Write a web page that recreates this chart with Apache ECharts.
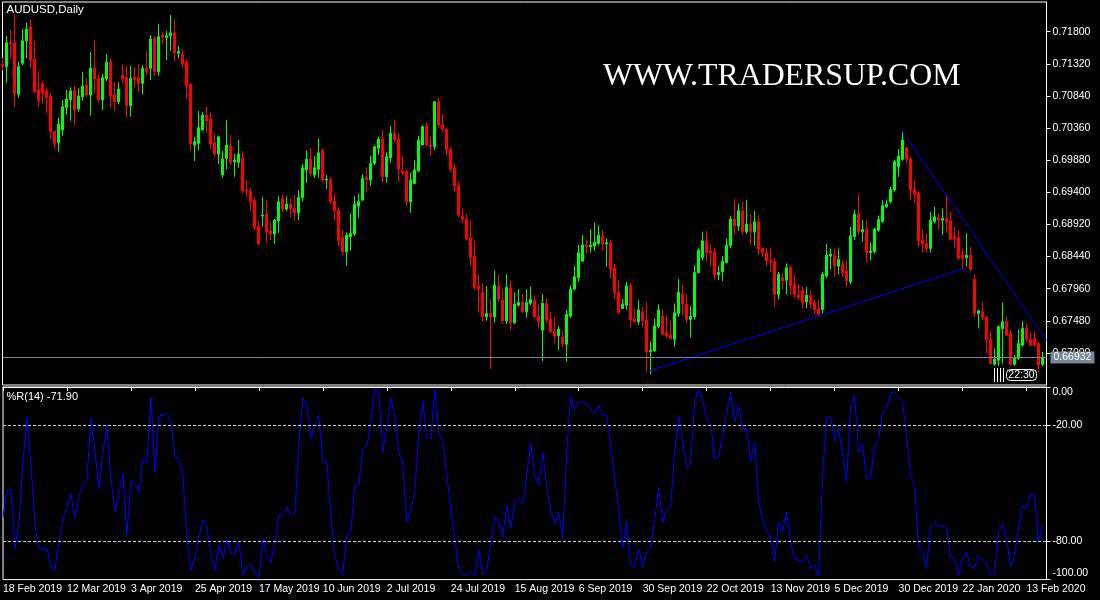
<!DOCTYPE html>
<html><head><meta charset="utf-8">
<script src="https://cdn.jsdelivr.net/npm/echarts/dist/echarts.min.js"></script>
<style>html,body{margin:0;padding:0;background:#000;}#c{width:1100px;height:600px;}</style>
</head><body><div id="c"></div>
<script>
const symbolName = 'AUDUSD,Daily';
const holidays = ['2019-12-25', '2020-01-01'];
const barCount = 262; // 261 bars + one empty slot on the right
const opens = [0.71317,0.71277,0.71636,0.71636,0.70868,0.71328,0.71661,0.71875,0.71392,0.70928,0.71018,0.70918,0.70839,0.70315,0.70140,0.70330,0.70664,0.70779,0.70918,0.70644,0.70828,0.71003,0.70854,0.71257,0.71103,0.70779,0.71093,0.71347,0.70854,0.70753,0.71153,0.71118,0.70694,0.71118,0.71118,0.71028,0.71253,0.71253,0.71701,0.71202,0.71755,0.71710,0.71740,0.71785,0.71477,0.71467,0.71347,0.71018,0.70106,0.70131,0.70330,0.70554,0.70495,0.70140,0.69971,0.69657,0.69907,0.70091,0.69856,0.69847,0.69916,0.69433,0.69418,0.69283,0.68895,0.69044,0.69074,0.68820,0.68775,0.68974,0.69309,0.69149,0.69224,0.69159,0.69094,0.69318,0.69732,0.69897,0.69657,0.69743,0.70031,0.69583,0.69597,0.69268,0.69134,0.68726,0.68510,0.68735,0.68775,0.69194,0.69283,0.69623,0.69583,0.69832,0.70057,0.70196,0.69632,0.69916,0.70281,0.70196,0.69722,0.69707,0.69258,0.69533,0.69717,0.70106,0.70390,0.70106,0.70080,0.70753,0.70420,0.70345,0.70046,0.69766,0.69508,0.69044,0.68999,0.68720,0.68436,0.67997,0.67903,0.67538,0.67589,0.67538,0.67997,0.67788,0.67479,0.67972,0.67449,0.67713,0.67754,0.67613,0.67739,0.67788,0.67549,0.67340,0.67739,0.67504,0.67325,0.67254,0.67239,0.67130,0.67549,0.67953,0.68122,0.68371,0.68611,0.68586,0.68596,0.68636,0.68745,0.68626,0.68645,0.68271,0.67903,0.67664,0.67713,0.68002,0.67504,0.67464,0.67613,0.67489,0.67015,0.67030,0.67394,0.67549,0.67300,0.67265,0.67205,0.67589,0.67878,0.67728,0.67499,0.67538,0.68197,0.68426,0.68675,0.68525,0.68501,0.68172,0.68212,0.68351,0.68601,0.68999,0.68895,0.69123,0.68809,0.68925,0.68809,0.68959,0.68561,0.68495,0.68386,0.68371,0.67873,0.68122,0.68087,0.68271,0.68027,0.67863,0.67938,0.67763,0.67863,0.67748,0.67664,0.67649,0.68147,0.68446,0.68461,0.68296,0.68321,0.68226,0.68062,0.68735,0.69074,0.68809,0.68845,0.68501,0.68510,0.68835,0.68959,0.69183,0.69258,0.69433,0.69781,0.69892,0.70066,0.69897,0.69433,0.69393,0.68696,0.68636,0.68561,0.68959,0.69025,0.68984,0.69010,0.68974,0.68735,0.68726,0.68461,0.68421,0.68461,0.68102,0.67589,0.67613,0.67538,0.67200,0.66831,0.66891,0.67365,0.67464,0.67290,0.66831,0.66916,0.67116,0.67365,0.67200,0.67215,0.67141,0.66827];
const highs = [0.71407,0.71736,0.71825,0.72065,0.71351,0.71840,0.71941,0.71990,0.71661,0.71212,0.71063,0.70969,0.70879,0.70315,0.70514,0.70779,0.70928,0.70969,0.70988,0.70954,0.71202,0.71103,0.71496,0.71676,0.71168,0.71168,0.71467,0.71402,0.71043,0.71043,0.71313,0.71287,0.71287,0.71268,0.71313,0.71292,0.71511,0.71751,0.71740,0.71915,0.71791,0.71810,0.72050,0.71990,0.71591,0.71541,0.71387,0.71018,0.70230,0.70614,0.70604,0.70689,0.70595,0.70281,0.70240,0.70016,0.70480,0.70255,0.69971,0.70181,0.70016,0.69583,0.69467,0.69324,0.68969,0.69333,0.69283,0.68950,0.68999,0.69343,0.69373,0.69343,0.69309,0.69358,0.69433,0.69822,0.70031,0.70057,0.69941,0.70206,0.70057,0.69657,0.69623,0.69384,0.69183,0.68835,0.68800,0.69085,0.69343,0.69373,0.69672,0.69772,0.69941,0.70095,0.70230,0.70330,0.69997,0.70390,0.70480,0.70281,0.69946,0.69743,0.69692,0.69882,0.70240,0.70405,0.70445,0.70240,0.70764,0.70819,0.70569,0.70365,0.70080,0.69832,0.69557,0.69159,0.69074,0.68984,0.68670,0.68177,0.68038,0.67997,0.67814,0.68226,0.68177,0.67953,0.68177,0.68087,0.67903,0.67953,0.67878,0.67953,0.67987,0.67863,0.67739,0.67878,0.67814,0.67613,0.67529,0.67399,0.67340,0.67643,0.68012,0.68301,0.68611,0.68760,0.68700,0.68850,0.68944,0.68909,0.68835,0.68711,0.68685,0.68337,0.68087,0.67803,0.68062,0.68047,0.67664,0.67788,0.67688,0.67754,0.67175,0.67514,0.67728,0.67654,0.67564,0.67489,0.67739,0.68102,0.68012,0.67878,0.67698,0.68311,0.68561,0.68809,0.68824,0.68626,0.68576,0.68301,0.68446,0.68711,0.69044,0.69298,0.69224,0.69258,0.69283,0.69074,0.69123,0.69059,0.68576,0.68561,0.68561,0.68411,0.68212,0.68197,0.68337,0.68311,0.68177,0.68027,0.67987,0.67987,0.67938,0.67798,0.67798,0.68212,0.68626,0.68561,0.68561,0.68561,0.68386,0.68376,0.68884,0.69134,0.69384,0.68984,0.68984,0.68651,0.68875,0.69044,0.69283,0.69293,0.69482,0.69882,0.70046,0.70305,0.70080,0.69931,0.69583,0.69408,0.68845,0.68786,0.69109,0.69183,0.69085,0.69159,0.69333,0.69109,0.68875,0.68835,0.68561,0.68794,0.68586,0.68177,0.67643,0.67763,0.67549,0.67329,0.67066,0.67414,0.67748,0.67538,0.67350,0.66966,0.67350,0.67479,0.67439,0.67314,0.67325,0.67165,0.67015];
const lows = [0.71227,0.71028,0.71402,0.70679,0.70813,0.71292,0.71402,0.71262,0.70888,0.70679,0.70729,0.70580,0.70196,0.70042,0.70006,0.70240,0.70554,0.70469,0.70394,0.70604,0.70768,0.70828,0.70544,0.70879,0.70738,0.70629,0.71063,0.70664,0.70614,0.70719,0.71028,0.70514,0.70529,0.70969,0.70903,0.70864,0.71153,0.71078,0.71142,0.71138,0.71627,0.71377,0.71511,0.71351,0.71402,0.71262,0.70794,0.70021,0.69867,0.70031,0.70330,0.70290,0.70046,0.69931,0.69822,0.69617,0.69747,0.69807,0.69632,0.69766,0.69384,0.69333,0.69123,0.68835,0.68626,0.68884,0.68645,0.68685,0.68626,0.68794,0.69109,0.69119,0.69019,0.68974,0.68984,0.69258,0.69542,0.69632,0.69608,0.69617,0.69542,0.69448,0.69224,0.68984,0.68596,0.68461,0.68301,0.68525,0.68745,0.69019,0.69268,0.69393,0.69493,0.69807,0.69956,0.69542,0.69542,0.69832,0.70140,0.69557,0.69657,0.69198,0.69094,0.69518,0.69707,0.70106,0.70091,0.69946,0.70031,0.70365,0.70305,0.69946,0.69707,0.69408,0.69025,0.68935,0.68675,0.68301,0.67938,0.67613,0.67464,0.67479,0.66756,0.67449,0.67763,0.67429,0.67429,0.67340,0.67429,0.67688,0.67589,0.67523,0.67713,0.67514,0.67365,0.66880,0.67449,0.67300,0.67141,0.67041,0.67090,0.66865,0.67523,0.67928,0.68062,0.68361,0.68491,0.68501,0.68525,0.68611,0.68525,0.68286,0.68113,0.67798,0.67579,0.67654,0.67643,0.67374,0.67449,0.67414,0.67380,0.66716,0.66677,0.67015,0.67365,0.67265,0.67230,0.67205,0.67090,0.67538,0.67564,0.67439,0.67230,0.67499,0.68187,0.68386,0.68361,0.68296,0.68098,0.68087,0.68077,0.68337,0.68561,0.68779,0.68824,0.68760,0.68775,0.68611,0.68601,0.68461,0.68436,0.68301,0.68212,0.67688,0.67798,0.67938,0.67873,0.67863,0.67828,0.67798,0.67664,0.67664,0.67664,0.67579,0.67538,0.67589,0.68122,0.68247,0.68137,0.68177,0.68137,0.67978,0.68027,0.68685,0.68760,0.68660,0.68361,0.68386,0.68486,0.68809,0.68944,0.69159,0.69233,0.69408,0.69632,0.69871,0.69832,0.69283,0.69243,0.68576,0.68501,0.68501,0.68501,0.68935,0.68835,0.68760,0.68794,0.68685,0.68561,0.68396,0.68262,0.68286,0.68226,0.67538,0.67365,0.67479,0.66991,0.66831,0.66806,0.66806,0.66841,0.67250,0.66806,0.66806,0.66891,0.67090,0.67165,0.67090,0.67105,0.66716,0.66801];
const closes = [0.71287,0.71636,0.71612,0.70868,0.71277,0.71665,0.71840,0.71377,0.70903,0.70768,0.70879,0.70813,0.70305,0.70131,0.70420,0.70679,0.70794,0.70918,0.70629,0.70839,0.70988,0.70854,0.71257,0.71093,0.70779,0.71112,0.71347,0.70839,0.70753,0.70943,0.71093,0.70694,0.71103,0.71088,0.71028,0.71253,0.71202,0.71691,0.71202,0.71725,0.71716,0.71740,0.71785,0.71486,0.71501,0.71317,0.70988,0.70121,0.70155,0.70365,0.70554,0.70469,0.70121,0.69971,0.70230,0.69897,0.70106,0.69847,0.69882,0.69971,0.69418,0.69418,0.69258,0.68875,0.68626,0.69059,0.68809,0.68775,0.68984,0.69258,0.69149,0.69224,0.69149,0.69094,0.69324,0.69766,0.69897,0.69683,0.69766,0.69991,0.69583,0.69597,0.69268,0.69123,0.68675,0.68510,0.68760,0.68786,0.69224,0.69258,0.69608,0.69583,0.69832,0.70080,0.70196,0.69632,0.69931,0.70281,0.70181,0.69747,0.69683,0.69258,0.69583,0.69732,0.70181,0.70380,0.70106,0.70080,0.70753,0.70405,0.70341,0.70031,0.69747,0.69497,0.69059,0.68999,0.68700,0.68421,0.67978,0.67948,0.67538,0.67589,0.67538,0.68012,0.67803,0.67479,0.67978,0.67449,0.67728,0.67754,0.67613,0.67754,0.67803,0.67538,0.67464,0.67739,0.67489,0.67314,0.67254,0.67355,0.67130,0.67579,0.67953,0.68137,0.68495,0.68611,0.68586,0.68611,0.68651,0.68760,0.68626,0.68645,0.68247,0.67897,0.67604,0.67728,0.68002,0.67489,0.67464,0.67643,0.67479,0.67015,0.67041,0.67404,0.67643,0.67280,0.67254,0.67215,0.67598,0.67903,0.67728,0.67499,0.67549,0.68202,0.68536,0.68675,0.68501,0.68495,0.68162,0.68202,0.68371,0.68611,0.68999,0.68895,0.69123,0.68809,0.68925,0.68809,0.68959,0.68551,0.68501,0.68376,0.68361,0.67873,0.68177,0.68077,0.68271,0.68002,0.67873,0.67833,0.67748,0.67863,0.67728,0.67649,0.67579,0.68177,0.68461,0.68476,0.68296,0.68396,0.68197,0.68077,0.68750,0.69074,0.68809,0.68845,0.68501,0.68525,0.68850,0.68994,0.69198,0.69224,0.69443,0.69856,0.69941,0.70181,0.69892,0.69433,0.69373,0.68675,0.68626,0.68561,0.68984,0.69034,0.68984,0.69010,0.68959,0.68696,0.68696,0.68411,0.68411,0.68461,0.68247,0.67589,0.67628,0.67529,0.67200,0.66841,0.66906,0.67389,0.67464,0.67265,0.66831,0.66916,0.67141,0.67365,0.67200,0.67116,0.67116,0.66816,0.66932];
const wr = [-67.4,-54.4,-53.0,-83.8,-70.0,-38.9,-15.5,-40.6,-71.7,-83.8,-83.8,-83.5,-93.9,-95.1,-80.4,-68.3,-62.2,-55.3,-68.3,-57.0,-50.6,-48.4,-16.1,-33.7,-52.7,-33.7,-20.2,-47.5,-64.5,-56.2,-44.9,-76.9,-48.9,-50.1,-55.3,-37.2,-39.7,-5.2,-44.1,-15.0,-14.7,-14.3,-18.1,-36.3,-36.8,-45.8,-78.6,-95.1,-88.2,-77.8,-69.1,-72.6,-87.3,-95.1,-82.1,-89.0,-79.0,-86.4,-86.4,-80.0,-97.7,-93.3,-92.1,-96.8,-99.0,-78.6,-87.0,-91.6,-80.4,-66.5,-66.5,-62.7,-66.5,-65.7,-28.5,-5.7,-9.5,-26.8,-20.7,-14.7,-39.2,-39.2,-66.5,-88.2,-95.1,-97.7,-76.1,-75.2,-51.0,-50.6,-32.0,-31.1,-19.0,-0.8,-1.7,-33.7,-20.7,-5.7,-14.7,-33.7,-39.7,-70.0,-64.0,-54.4,-23.3,-7.4,-25.9,-27.1,-1.2,-24.2,-27.6,-45.8,-63.1,-78.6,-95.1,-97.3,-98.0,-95.9,-97.7,-84.7,-97.3,-95.1,-81.2,-67.4,-70.0,-77.8,-61.4,-73.5,-59.6,-57.9,-60.5,-45.8,-29.4,-45.8,-51.0,-33.7,-51.0,-64.8,-70.9,-64.8,-78.3,-32.8,-5.2,-11.6,-7.8,-7.8,-8.6,-11.6,-13.8,-9.8,-14.3,-14.7,-31.1,-47.5,-64.8,-83.8,-70.0,-92.5,-93.9,-83.8,-93.3,-85.6,-83.8,-68.3,-52.7,-70.0,-64.0,-62.2,-33.7,-14.7,-28.5,-42.0,-38.9,-6.9,-1.2,-6.9,-16.4,-19.0,-37.2,-36.3,-24.2,-13.8,-2.9,-18.1,-9.5,-22.5,-21.3,-38.9,-28.2,-59.6,-68.3,-74.3,-77.8,-90.4,-70.0,-75.2,-64.8,-80.4,-89.4,-89.9,-90.7,-87.3,-94.2,-92.5,-98.5,-45.8,-15.5,-15.0,-27.6,-21.6,-35.4,-49.3,-11.2,-4.0,-33.7,-30.2,-47.5,-47.2,-30.2,-26.8,-12.9,-11.2,-3.4,-2.2,-6.0,-7.8,-25.1,-45.8,-51.0,-83.8,-85.6,-94.2,-72.6,-70.4,-72.1,-72.1,-73.5,-88.2,-89.0,-98.5,-89.0,-85.6,-93.3,-94.2,-87.6,-89.9,-91.6,-97.7,-96.8,-75.2,-71.4,-78.6,-93.3,-87.3,-73.5,-61.4,-62.7,-55.3,-56.2,-80.4,-71.9];
const wrPeriod = 14;
const wrLevels = [-20, -80];
const wrTicks = [0, -20, -80, -100];
const priceAxis = { min: 0.6652, max: 0.72244, step: 0.0048 };
const upTrend = [[161, 0.66716], [241, 0.68271]];
const downTrend = [[225, 0.70305], [261, 0.67187]];
const watermark = 'WWW.TRADERSUP.COM';
const timerText = '22:30';

// trading-day categories (weekdays, minus market holidays)
const months = ['Jan','Feb','Mar','Apr','May','Jun','Jul','Aug','Sep','Oct','Nov','Dec'];
const categories = [];
const d = new Date(Date.UTC(2019, 1, 18));
while (categories.length < barCount) {
  const wd = d.getUTCDay();
  const iso = d.toISOString().slice(0, 10);
  if (wd !== 0 && wd !== 6 && holidays.indexOf(iso) < 0) {
    categories.push(d.getUTCDate() + ' ' + months[d.getUTCMonth()] + ' ' + d.getUTCFullYear());
  }
  d.setUTCDate(d.getUTCDate() + 1);
}
const candles = opens.map((o, i) => [o, closes[i], lows[i], highs[i]]);
const lastClose = closes[closes.length - 1];

const FONT = '"Liberation Sans Narrow","Arial Narrow","Liberation Sans",Arial,sans-serif';
const chart = echarts.init(document.getElementById('c'), null, { renderer: 'canvas' });
const labelEvery = 16;
const GL = 2.5, GW = 4 * (barCount - 1);

chart.setOption({
  backgroundColor: '#000',
  animation: false,
  grid: [
    { left: GL, width: GW, top: 2, height: 383, show: true, borderColor: '#fff', borderWidth: 1, backgroundColor: 'transparent' },
    { left: GL, width: GW, top: 387, height: 192.6, show: true, borderColor: '#fff', borderWidth: 1, backgroundColor: 'transparent' }
  ],
  xAxis: [
    { type: 'category', gridIndex: 0, data: categories, boundaryGap: false,
      axisLine: { show: false }, axisTick: { show: false }, axisLabel: { show: false }, splitLine: { show: false } },
    { type: 'category', gridIndex: 1, data: categories, boundaryGap: false,
      axisLine: { show: true, lineStyle: { color: '#fff', width: 1 } },
      axisTick: { show: true, length: 4, interval: (i) => i % labelEvery === 0, lineStyle: { color: '#fff' } },
      axisLabel: { show: true, interval: (i) => i % labelEvery === 0 && i < barCount - 1, align: 'left',
        color: '#fff', fontFamily: FONT, fontSize: 10.5, margin: 4 },
      splitLine: { show: false } }
  ],
  yAxis: [
    { type: 'value', gridIndex: 0, position: 'right', min: priceAxis.min, max: priceAxis.max, interval: priceAxis.step,
      axisLine: { show: true, lineStyle: { color: '#fff' } },
      axisTick: { show: true, length: 4, lineStyle: { color: '#fff' } },
      axisLabel: { color: '#fff', fontFamily: FONT, fontSize: 10.5, margin: 6, showMinLabel: false, showMaxLabel: false,
        formatter: (v) => v.toFixed(5) },
      splitLine: { show: false } },
    { type: 'value', gridIndex: 1, position: 'right', min: -100, max: 0,
      axisLine: { show: true, lineStyle: { color: '#fff' } },
      axisTick: { show: true, length: 4, lineStyle: { color: '#fff' }, customValues: wrTicks },
      axisLabel: { color: '#fff', fontFamily: FONT, fontSize: 10.5, margin: 6, customValues: wrTicks,
        formatter: (v) => v === 0 ? '{t|' + v.toFixed(2) + '}' : (v === -100 ? '{b|' + v.toFixed(2) + '}' : v.toFixed(2)),
        rich: {
          t: { color: '#fff', fontFamily: FONT, fontSize: 10.5, padding: [11, 0, 0, 0] },
          b: { color: '#fff', fontFamily: FONT, fontSize: 10.5, padding: [0, 0, 12, 0] }
        } },
      splitLine: { show: false } }
  ],
  series: [
    { type: 'candlestick', xAxisIndex: 0, yAxisIndex: 0, data: candles, barWidth: 2,
      itemStyle: { color: '#00ff00', color0: '#ff0000', borderColor: '#00ff00', borderColor0: '#ff0000', borderWidth: 1 },
      markLine: { silent: true, symbol: ['none', 'none'], animation: false, precision: 5,
        data: [
          [ { coord: upTrend[0], lineStyle: { color: '#0000ff', width: 1, type: 'solid' }, label: { show: false } }, { coord: upTrend[1] } ],
          [ { coord: downTrend[0], lineStyle: { color: '#0000ff', width: 1, type: 'solid' }, label: { show: false } }, { coord: downTrend[1] } ],
          { yAxis: lastClose, lineStyle: { color: '#778899', width: 1, type: 'solid' },
            label: { show: true, position: 'end', distance: 4, formatter: lastClose.toFixed(5), color: '#fff',
              backgroundColor: '#778899', padding: [1, 3, 0, 3], fontFamily: FONT, fontSize: 10.5 } }
        ] } },
    { type: 'line', xAxisIndex: 1, yAxisIndex: 1, data: wr, showSymbol: false, symbol: 'none',
      lineStyle: { color: '#0000ff', width: 1 }, itemStyle: { color: '#0000ff' },
      markLine: { silent: true, symbol: ['none', 'none'], animation: false, label: { show: false }, precision: 2,
        lineStyle: { color: '#d0d0d0', width: 1, type: [3, 2] },
        data: wrLevels.map((v) => ({ yAxis: v })) } }
  ],
  graphic: [
    { type: 'text', left: 6.5, top: 4, silent: true, style: { text: symbolName, fill: '#fff', font: '11.5px ' + FONT } },
    { type: 'text', left: 6.5, top: 391.5, silent: true, style: { text: '%R(' + wrPeriod + ') ' + wr[wr.length - 1].toFixed(2), fill: '#fff', font: '11px ' + FONT } },
    { type: 'text', left: 603, top: 60.5, silent: true, style: { text: watermark, fill: '#fff', font: '31.8px "Liberation Serif","Times New Roman",serif' } },
    { type: 'group', left: 994, top: 368, silent: true, children: [
      { type: 'rect', shape: { x: 1, y: 0, width: 1, height: 14 }, style: { fill: '#fff' } },
      { type: 'rect', shape: { x: 4, y: 0, width: 1, height: 14 }, style: { fill: '#fff' } },
      { type: 'rect', shape: { x: 7, y: 0, width: 1, height: 14 }, style: { fill: '#fff' } },
      { type: 'rect', shape: { x: 10, y: 0, width: 1, height: 14 }, style: { fill: '#fff' } },
      { type: 'rect', shape: { x: 13.5, y: 1.5, width: 30, height: 11, r: 4 }, style: { fill: '#000', stroke: '#fff', lineWidth: 1 } },
      { type: 'text', x: 28.5, y: 7, style: { text: timerText, fill: '#fff', font: '10.5px ' + FONT, align: 'center', verticalAlign: 'middle' } }
    ] }
  ]
});
</script>
</body></html>
